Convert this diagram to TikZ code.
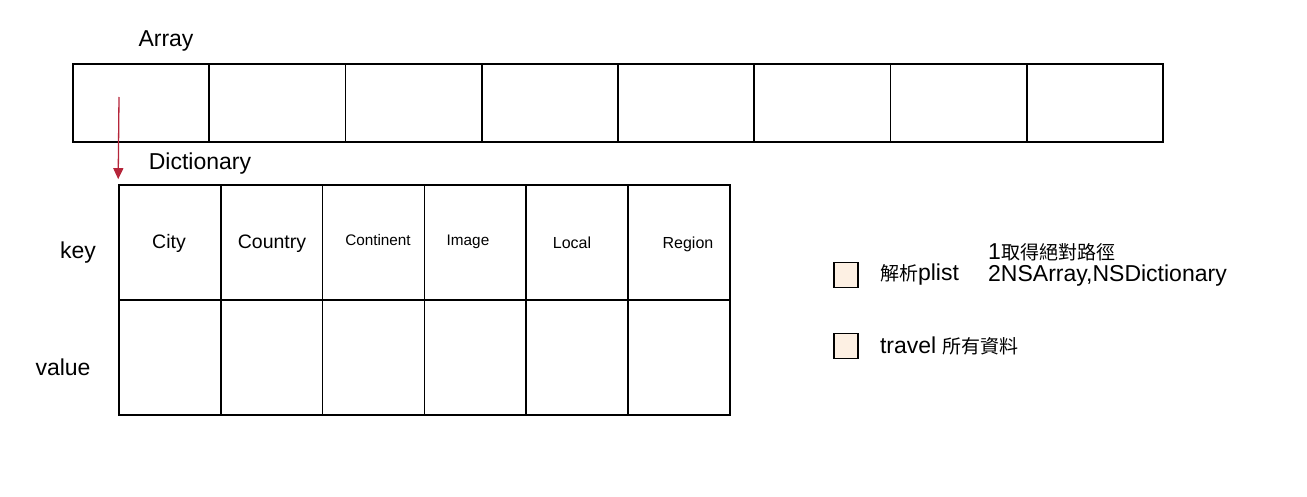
\documentclass[tikz,border=0pt]{standalone}
\usepackage{fontspec}
\setmainfont{Liberation Sans}
\newfontfamily\cjkfont{Noto Sans CJK TC}
\usepackage{xcolor}
\usepackage{tikz}
\usetikzlibrary{arrows.meta}
\usetikzlibrary{positioning}
\definecolor{arrowred}{HTML}{B5253A}
\definecolor{peach}{HTML}{FDF0E3}
\newcommand{\hugetxt}{\fontsize{23}{25}\selectfont}
\newcommand{\bigtxt}{\fontsize{19.5}{21}\selectfont}
\newcommand{\midtxt}{\fontsize{16}{18}\selectfont}
\newcommand{\smalltxt}{\fontsize{15.3}{17}\selectfont}
\newcommand{\cjk}[1]{{\cjkfont\fontsize{19}{21}\selectfont #1}}
\tikzset{
    label_txt/.style = {inner sep=0pt, font=\hugetxt},
    arr_cell/.style = {rectangle, draw=black, line width=1.6pt, minimum width=136.25pt, minimum height=78pt, inner sep=0pt},
    dict_cell/.style = {rectangle, draw=black, line width=1.6pt, minimum width=101.8pt, minimum height=115pt, inner sep=0pt},
    key_txt/.style = {inner sep=0pt, anchor=base},
    legend_box/.style = {rectangle, draw=black, line width=1.6pt, fill=peach, minimum width=24pt, minimum height=25pt, inner sep=0pt}
}

\begin{document}
\begin{tikzpicture}[x=1pt, y=-1pt]
    \useasboundingbox (0,0) rectangle (1307,497);
    % array
    \node [label_txt] (arraylbl) at (166,41) {Array};
    \foreach \i in {0,...,7} {
        \node [arr_cell] (a\i) at ({141.125+136.25*\i},103) {};
    }
    % dictionary
    \node [label_txt] (dictlbl) at (200,164) {Dictionary};
    \foreach \i in {1,...,6} {
        \node [dict_cell] (k\i) at ({68.1+101.8*\i},242.5) {};
        \node [dict_cell] (v\i) at ({68.1+101.8*\i},357.5) {};
    }
    \node [key_txt, font=\bigtxt] (kcity) at (169,249) {City};
    \node [key_txt, font=\bigtxt] (kcountry) at (272,249) {Country};
    \node [key_txt, font=\smalltxt] (kcontinent) at (378,246) {Continent};
    \node [key_txt, font=\smalltxt] (kimage) at (468,246) {Image};
    \node [key_txt, font=\midtxt] (klocal) at (572,249) {Local};
    \node [key_txt, font=\midtxt] (kregion) at (688,249) {Region};
    \node [label_txt] (keylbl) at (78,253) {key};
    \node [label_txt] (valuelbl) at (63,367) {value};
    % arrow from first array cell
    \coordinate (src) at (119,97);
    \draw [arrowred, line width=1.3pt, -{Triangle[length=11pt,width=10pt]}]
        (src) -- ([yshift=5pt]k1.north west);
    % legend
    \node [legend_box] (lg1) at (846,275) {};
    \node [legend_box] (lg2) at (846,346) {};
    \node [label_txt, anchor=west, right=21pt of lg1] (lg1txt) {\cjk{解析}plist};
    \node [label_txt, anchor=west] (note1) at (988,252) {1\cjk{取得絕對路徑}};
    \node [label_txt, anchor=west] (note2) at (988,276) {2NSArray,NSDictionary};
    \node [label_txt, anchor=west, right=21pt of lg2] (lg2txt) {travel \cjk{所有資料}};
\end{tikzpicture}
\end{document}
